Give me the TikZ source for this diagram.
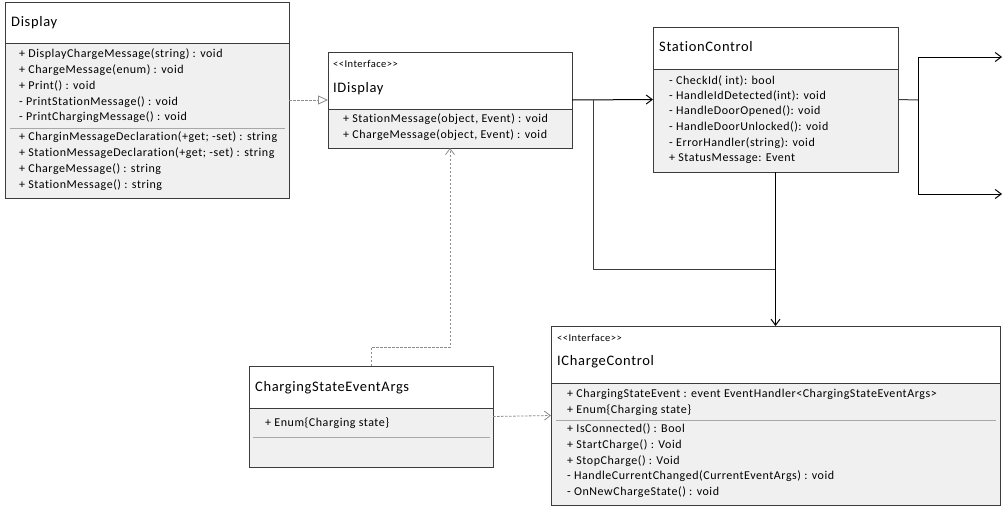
\documentclass[tikz,border=0pt]{standalone}
\usepackage{fontspec}
\setmainfont{Carlito}
\newfontfamily\umlfont[LetterSpace=4.5,Ligatures=NoCommon]{Carlito}
\usetikzlibrary{arrows.meta}
\definecolor{boxline}{HTML}{3C3C3C}
\definecolor{boxbody}{HTML}{F0F0F0}
\definecolor{sepline}{HTML}{A8A8A8}
\definecolor{dashline}{HTML}{8C8C8C}
\tikzset{
  classbox/.style={draw=boxline, line width=1pt, fill=boxbody, anchor=north west, inner sep=0, outer sep=0},
  headbox/.style={draw=boxline, line width=1pt, fill=white, anchor=north west, inner sep=0, outer sep=0},
  title/.style={anchor=west, inner sep=0, text height=9pt, text depth=3pt, font=\umlfont\fontsize{14.5}{16}\selectfont},
  stereo/.style={anchor=west, inner sep=0, text height=7pt, text depth=2pt, font=\umlfont\fontsize{10.5}{12}\selectfont},
  mem/.style={anchor=west, inner sep=0, text height=8.5pt, text depth=2.8pt, font=\umlfont\fontsize{12}{14}\selectfont},
  sep/.style={draw=sepline, line width=0.8pt},
  assoc/.style={draw=black, line width=1pt, -{Straight Barb[length=6pt,width=9pt]}},
  plainline/.style={draw=boxline, line width=1pt},
  depend/.style={draw=dashline, line width=0.8pt, dash pattern=on 2.5pt off 1.5pt, -{Straight Barb[length=6pt,width=9pt]}},
  realize/.style={draw=dashline, line width=0.8pt, dash pattern=on 2.5pt off 1.5pt, -{Triangle[open,length=10pt,width=9pt,fill=white]}},
}
\newcommand{\stereotag}{<{}<Interface>{}>}
\begin{document}
\begin{tikzpicture}[x=1pt,y=-1pt]
\useasboundingbox[fill=white] (0,0) rectangle (1006,509);

% ---------- Display ----------
\node[classbox, minimum width=284pt, minimum height=196pt] (display) at (5,2) {};
\node[headbox, minimum width=284pt, minimum height=41pt] (displayhead) at (5,2) {};
\node[title] (displaytitle) at (11,23) {Display};
\node[mem] (d1) at (19,55) {+ DisplayChargeMessage(string) : void};
\node[mem] (d2) at (19,71) {+ ChargeMessage(enum) : void};
\node[mem] (d3) at (19,87) {+ Print() : void};
\node[mem] (d4) at (19,103) {- PrintStationMessage() : void};
\node[mem] (d5) at (19,118) {- PrintChargingMessage() : void};
\draw[sep] (10,128) -- (285,128);
\node[mem] (d6) at (19,138) {+ CharginMessageDeclaration(+get; -set) : string};
\node[mem] (d7) at (19,154) {+ StationMessageDeclaration(+get; -set) : string};
\node[mem] (d8) at (19,170) {+ ChargeMessage() : string};
\node[mem] (d9) at (19,186) {+ StationMessage() : string};

% ---------- IDisplay ----------
\node[classbox, minimum width=244pt, minimum height=96pt] (idisplay) at (328,52) {};
\node[headbox, minimum width=244pt, minimum height=57pt] (idisplayhead) at (328,52) {};
\node[stereo] (idst) at (333,65) {\stereotag};
\node[title] (idtitle) at (333,89) {IDisplay};
\node[mem] (id1) at (343,120) {+ StationMessage(object, Event) : void};
\node[mem] (id2) at (343,136) {+ ChargeMessage(object, Event) : void};

% ---------- StationControl ----------
\node[classbox, minimum width=245pt, minimum height=145pt] (station) at (653,27) {};
\node[headbox, minimum width=245pt, minimum height=42pt] (stationhead) at (653,27) {};
\node[title] (sctitle) at (659,48) {StationControl};
\node[mem] (s1) at (669,82) {- CheckId( int): bool};
\node[mem] (s2) at (669,97) {- HandleIdDetected(int): void};
\node[mem] (s3) at (669,112) {- HandleDoorOpened(): void};
\node[mem] (s4) at (669,128) {- HandleDoorUnlocked(): void};
\node[mem] (s5) at (669,144) {- ErrorHandler(string): void};
\node[mem] (s6) at (669,159) {+ StatusMessage: Event};

% ---------- IChargeControl ----------
\node[classbox, minimum width=449pt, minimum height=179pt] (icharge) at (551,326) {};
\node[headbox, minimum width=449pt, minimum height=57pt] (ichargehead) at (551,326) {};
\node[stereo] (icst) at (557,339) {\stereotag};
\node[title] (ictitle) at (557,362) {IChargeControl};
\node[mem] (c1) at (567,395) {+ ChargingStateEvent : event EventHandler<ChargingStateEventArgs>};
\node[mem] (c2) at (567,411) {+ Enum\{Charging state\}};
\draw[sep] (556,420) -- (996,420);
\node[mem] (c3) at (567,430) {+ IsConnected() : Bool};
\node[mem] (c4) at (567,446) {+ StartCharge() : Void};
\node[mem] (c5) at (567,462) {+ StopCharge() : Void};
\node[mem] (c6) at (567,477) {- HandleCurrentChanged(CurrentEventArgs) : void};
\node[mem] (c7) at (567,493) {- OnNewChargeState() : void};

% ---------- ChargingStateEventArgs ----------
\node[classbox, minimum width=244pt, minimum height=101pt] (csea) at (249,366) {};
\node[headbox, minimum width=244pt, minimum height=42pt] (cseahead) at (249,366) {};
\node[title] (cseatitle) at (255,388) {ChargingStateEventArgs};
\node[mem] (e1) at (265,424) {+ Enum\{Charging state\}};
\draw[sep] (253,437) -- (490,437);

% ---------- connectors ----------
\coordinate (j1) at (593,100);
\coordinate (j2) at (776,269);
\coordinate (j3) at (918,100);
\coordinate (out1) at (1002,57);
\coordinate (out2) at (1002,194);
\coordinate (k1) at (371,347);
\coordinate (k2) at (450,347);

\draw[realize] (display.east) -- (idisplay.west);
\draw[assoc] (idisplay.east) -- (station.west);
\draw[plainline] (j1) |- (j2);
\draw[assoc] (station.south) -- (icharge.north);
\draw[plainline] (station.east) -- (j3);
\draw[assoc] (j3) |- (out1);
\draw[assoc] (j3) |- (out2);
\draw[depend] (csea.east) -- (icharge.west);
\draw[depend] (csea.north) -- (k1) -- (k2) -- (idisplay.south);
\end{tikzpicture}
\end{document}
